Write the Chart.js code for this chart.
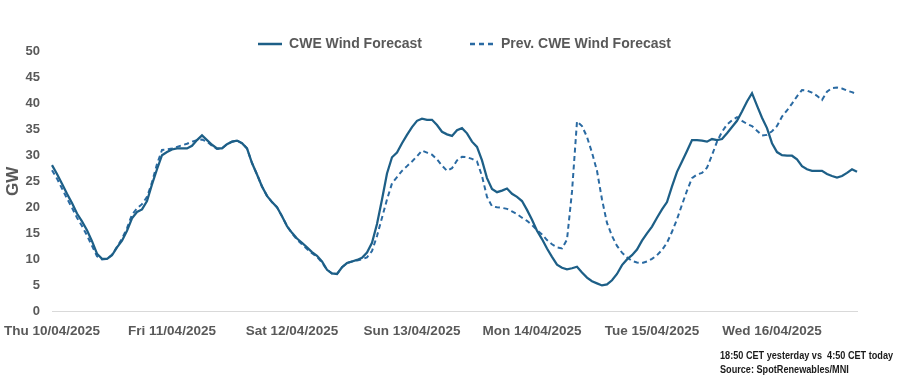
<!DOCTYPE html>
<html>
<head>
<meta charset="utf-8">
<script src="https://cdn.jsdelivr.net/npm/chart.js@4.4.1/dist/chart.umd.min.js"></script>
<style>
  html, body { margin: 0; padding: 0; background: #fff; }
  #wrap { position: relative; width: 907px; height: 385px; }
  .note {
    position: absolute;
    left: 720px;
    font: bold 11px 'Liberation Sans', Arial, sans-serif;
    color: #1a1a1a;
    white-space: pre;
    transform: scaleX(0.83);
    transform-origin: left top;
  }
</style>
</head>
<body>
<div id="wrap">
  <canvas id="chart" width="907" height="385"></canvas>
  <div class="note" style="top:349px">18:50 CET yesterday vs  4:50 CET today</div>
  <div class="note" style="top:363px">Source: SpotRenewables/MNI</div>
</div>
<script>
// day tick labels (one every 24 hourly points)
const days = ["Thu 10/04/2025", "Fri 11/04/2025", "Sat 12/04/2025", "Sun 13/04/2025",
  "Mon 14/04/2025", "Tue 15/04/2025", "Wed 16/04/2025"];

// hourly CWE wind forecast, GW (Thu 00:00 -> Wed 17:00)
const cweForecast = [
  28.1, 26.4, 24.5, 22.6, 20.8, 18.8, 17.3, 15.6, 13.5, 11.1, 10.1, 10.1,
  10.8, 12.3, 13.6, 15.5, 17.9, 19.1, 19.6, 21.2, 24.4, 27.3, 30.0, 30.6,
  31.1, 31.3, 31.3, 31.3, 31.8, 32.9, 33.8, 32.9, 32.0, 31.3, 31.3, 32.1,
  32.6, 32.8, 32.3, 31.3, 28.5, 26.3, 24.0, 22.2, 21.0, 20.0, 18.3, 16.4,
  15.1, 14.0, 13.2, 12.3, 11.4, 10.7, 9.6, 8.0, 7.3, 7.2, 8.5, 9.3,
  9.6, 9.9, 10.3, 11.3, 13.2, 16.8, 21.5, 26.5, 29.6, 30.5, 32.3, 33.9,
  35.4, 36.6, 37.0, 36.8, 36.8, 35.8, 34.5, 34.0, 33.7, 34.8, 35.2, 34.2,
  32.6, 31.6, 29.0, 25.6, 23.5, 22.9, 23.2, 23.6, 22.6, 22.0, 21.2, 19.5,
  17.6, 15.5, 13.9, 12.1, 10.5, 9.0, 8.4, 8.1, 8.3, 8.6, 7.5, 6.5,
  5.8, 5.4, 5.0, 5.2, 6.0, 7.2, 8.9, 10.0, 10.8, 11.9, 13.6, 15.0,
  16.3, 18.0, 19.6, 21.0, 24.0, 26.8, 28.8, 30.8, 32.9, 32.9, 32.8, 32.6,
  33.1, 32.9, 33.1, 34.2, 35.4, 36.6, 38.4, 40.3, 41.9, 39.5, 37.2, 35.2,
  32.3, 30.6, 30.0, 29.9, 29.9, 29.2, 27.9, 27.3, 27.0, 27.0, 27.0, 26.4,
  26.0, 25.7, 26.0, 26.6, 27.3, 26.8
];

// hourly previous CWE wind forecast, GW
const prevForecast = [
  27.1, 25.5, 23.6, 21.7, 19.9, 18.0, 16.4, 14.6, 12.6, 10.6, 10.0, 10.1,
  10.9, 12.4, 14.0, 16.0, 18.6, 19.8, 20.6, 22.0, 24.8, 28.3, 31.0, 31.1,
  31.3, 31.6, 31.9, 32.2, 32.6, 32.9, 33.0, 32.6, 31.8, 31.2, 31.3, 32.1,
  32.6, 32.8, 32.3, 31.3, 28.5, 26.3, 24.0, 22.2, 21.0, 20.0, 18.3, 16.4,
  15.0, 13.8, 12.9, 12.0, 11.2, 10.5, 9.4, 8.0, 7.3, 7.2, 8.5, 9.3,
  9.6, 9.8, 10.0, 10.4, 11.6, 14.5, 18.0, 21.5, 24.6, 25.8, 27.0, 27.9,
  28.8, 29.8, 30.9, 30.5, 30.1, 29.2, 28.0, 27.0, 27.5, 29.0, 29.7, 29.6,
  29.3, 28.8, 26.0, 22.0, 20.2, 20.0, 19.9, 19.7, 19.2, 18.7, 18.0, 17.4,
  16.6, 15.6, 14.8, 13.7, 12.9, 12.3, 12.1, 13.8, 23.0, 36.5, 35.6, 33.5,
  30.5, 27.0, 21.5, 17.0, 14.5, 12.6, 11.3, 10.4, 9.7, 9.4, 9.3, 9.6,
  10.1, 10.8, 11.8, 13.2, 15.3, 17.7, 20.5, 23.2, 25.6, 26.3, 26.6, 27.6,
  30.0, 32.6, 34.5, 35.9, 36.7, 37.3, 36.6, 36.0, 35.6, 34.7, 33.8, 33.9,
  34.6, 35.6, 37.4, 38.6, 39.9, 41.3, 42.5, 42.4, 42.0, 41.4, 40.6, 42.2,
  42.9, 43.0, 42.8, 42.4, 42.1, 41.7
];

// y axis
const yMin = 0;
const yMax = 50;
const yStep = 5;

// hourly categories built from the day labels
const hours = cweForecast.map((v, i) => {
  const d = days[Math.floor(i / 24)];
  const h = String(i % 24).padStart(2, "0");
  return `${d} ${h}:00`;
});

const grey = "#595959";
const font = "'Liberation Sans', Arial, sans-serif";
const solidColor = "#1d5f87";
const dashColor = "#2a6aa2";

// small line swatches used as legend symbols
const swatch = (color, width, dash) => {
  const c = document.createElement("canvas");
  c.width = 24;
  c.height = 4;
  const g = c.getContext("2d");
  g.strokeStyle = color;
  g.lineWidth = width;
  g.setLineDash(dash);
  g.beginPath();
  g.moveTo(0, 2);
  g.lineTo(24, 2);
  g.stroke();
  return c;
};

const ctx = document.querySelector("#chart").getContext("2d");

new Chart(ctx, {
  type: "line",
  data: {
    labels: hours,
    datasets: [
      {
        label: "CWE Wind Forecast",
        data: cweForecast,
        borderColor: solidColor,
        backgroundColor: solidColor,
        borderWidth: 2.25,
        pointRadius: 0,
        pointStyle: swatch(solidColor, 2.5, []),
        tension: 0,
        fill: false,
      },
      {
        label: "Prev. CWE Wind Forecast",
        data: prevForecast,
        borderColor: dashColor,
        backgroundColor: dashColor,
        borderWidth: 2,
        borderDash: [5, 3.5],
        pointRadius: 0,
        pointStyle: swatch(dashColor, 2.5, [5, 4]),
        tension: 0,
        fill: false,
      },
    ],
  },
  options: {
    responsive: false,
    animation: false,
    // left padding shifts the legend right; the y axis box is narrowed to compensate
    layout: { padding: { top: -11, right: 0, bottom: 0, left: 22 } },
    plugins: {
      legend: {
        position: "top",
        align: "center",
        maxHeight: 62,
        labels: {
          usePointStyle: true,
          pointStyleWidth: 24,
          padding: 48,
          color: grey,
          font: { family: font, size: 14, weight: "bold" },
        },
      },
      tooltip: { enabled: false },
    },
    scales: {
      x: {
        type: "category",
        offset: false,
        grid: { display: false, drawTicks: false },
        border: { display: true, color: "#d9d9d9", width: 1 },
        ticks: {
          autoSkip: false,
          maxRotation: 0,
          minRotation: 0,
          padding: 12,
          color: grey,
          font: { family: font, size: 13.5, weight: "bold" },
          callback: (value, index) => (index % 24 === 0 ? days[index / 24] : null),
        },
        afterFit: (scale) => {
          scale.height = 73.5;
          scale.paddingLeft = 0;
          scale.paddingRight = 50;
        },
      },
      y: {
        min: yMin,
        max: yMax,
        grid: { display: false, drawTicks: false },
        border: { display: false },
        ticks: {
          stepSize: yStep,
          // mirrored so the labels are not clipped to the narrow axis box
          mirror: true,
          crossAlign: "far",
          padding: -26.5,
          color: grey,
          font: { family: font, size: 13, weight: "bold" },
        },
        title: {
          display: true,
          text: "GW",
          color: grey,
          padding: { top: -19, bottom: 0 },
          font: { family: font, size: 17, weight: "bold" },
        },
        afterFit: (scale) => {
          scale.width = 30;
        },
      },
    },
  },
});
</script>
</body>
</html>
